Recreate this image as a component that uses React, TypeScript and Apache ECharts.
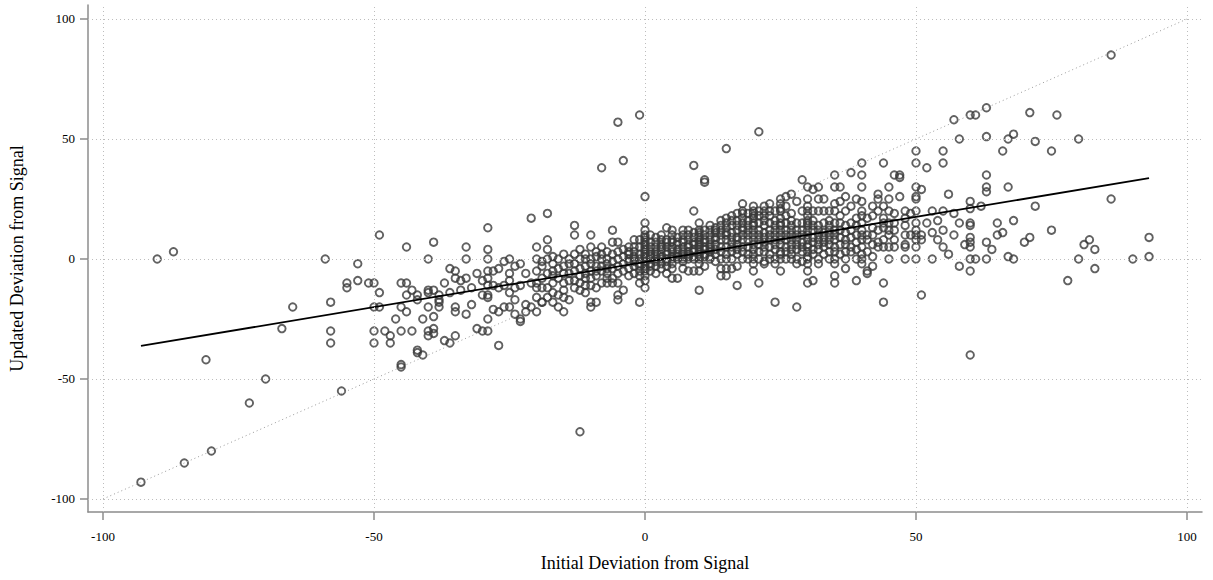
import React, { useEffect, useRef } from "react";
import * as echarts from "echarts";

const tickValues = [-100, -50, 0, 50, 100];
const xName = "Initial Deviation from Signal";
const yName = "Updated Deviation from Signal";
const diagX = [-100, 100];
const diagY = [-100, 100];
const fitX = [-93, 93];
const fitY = [-36.2, 33.7];

const farLeftPoints: [number, number][] = [
  [-93, -93], [-90, 0], [-87, 3], [-85, -85], [-81, -42], [-80, -80], [-73, -60], [-70, -50],
  [-67, -29], [-65, -20], [-59, 0], [-58, -18], [-58, -30], [-58, -35], [-56, -55], [-53, -2],
  [-55, -10], [-55, -12], [-53, -9], [-51, -10], [-50, -10], [-49, 10], [-49, -14], [-50, -20],
  [-50, -30], [-50, -35], [-48, -30], [-47, -35], [-49, -20],
];

const midLeftPoints: [number, number][] = [
  [-44, 5], [-39, 7], [-33, 5], [-29, 13], [-29, 4], [-29, 0], [-40, 0], [-33, 0], [-25, 0],
  [-26, -1], [-23, -2], [-21, 17], [-36, -4], [-35, -5], [-35, -8], [-34, -9], [-29, -5],
  [-28, -5], [-27, -4], [-29, -8], [-30, -9], [-25, -6], [-25, -9], [-45, -20], [-46, -25],
  [-47, -32], [-45, -30], [-43, -30], [-41, -25], [-39, -24], [-40, -20], [-40, -30], [-40, -32],
  [-39, -29], [-42, -38], [-38, -18], [-38, -20], [-35, -20], [-35, -22], [-36, -35], [-35, -32],
  [-32, -19], [-31, -29], [-30, -30], [-29, -30], [-27, -36], [-28, -21], [-27, -22], [-26, -20],
  [-25, -20], [-29, -25], [-29, -16], [-24, -23], [-23, -25], [-23, -26], [-22, -22], [-21, -20],
  [-19, -18], [-24, -17], [-22, -19], [-25, -14], [-24, -12], [-23, -11], [-21, -10], [-26, -11],
  [-27, -12], [-28, -11], [-29, -15], [-30, -15], [-29, -11], [-38, -15], [-38, -17], [-40, -13],
  [-40, -14], [-39, -13], [-43, -13], [-44, -15], [-45, -10], [-34, -13], [-33, -8], [-45, -44],
  [-45, -45], [-42, -39], [-41, -40], [-37, -34], [-39, -31], [-42, -17], [-42, -15], [-44, -22],
  [-31, -6], [-37, -10], [-32, -12], [-22, -6], [-24, -3], [-44, -10], [-36, -14], [-33, -23],
];

const centerColumns: [number, number[]][] = [
  [-20, [-10, -16, -22, -5, 0, 5, -12]],
  [-19, [-18, -8, -3]],
  [-18, [-16, -6, 0, 4, 8, 19, -12]],
  [-17, [-18, -10, -5, -2]],
  [-16, [-20, -15, 0, -8, -4]],
  [-15, [-22, -10, -6, -3, 2]],
  [-14, [-17, -6, -9, 0, -2]],
  [-13, [-9, -5, 10, 14, -2, 2]],
  [-12, [-13, -10, -4, 4, 0, -72, -7]],
  [-11, [-11, -6, -3, 2, 0]],
  [-10, [-11, -18, -20, 10, 5, -5, -2, 0, -8]],
  [-9, [-18, -7, -3, 1, 3]],
  [-8, [-10, -5, 0, 2, 5, 38, -3]],
  [-7, [-10, -6, -2, 0, 3]],
  [-6, [12, 7, -8, -4, -1, 2]],
  [-5, [-15, -17, -10, 57, 7, -6, -3, 0, 3]],
  [-4, [-13, 41, -5, -2, 1, 4]],
  [-3, [5, -4, -1, 2, 0]],
  [-2, [-6, -3, 0, 3, 5]],
  [-1, [-18, -7, -10, 60, 5, -3, 0, 2]],
  [0, [26, 15, 10, 8, 5, -12, -9, -5, -3, -1, 0, 2, 3, 6, -7, 4, 1]],
  [1, [10, -2, 0, 2, 5, -5]],
  [2, [9, -3, -6, 0, 3, 5, 7]],
  [3, [-4, 0, 2, 4, 6, 8]],
  [4, [13, 8, -3, -6, 2, 5, 0]],
  [5, [8, -8, -2, 0, 3, 5, 7, 10]],
  [6, [-8, 1, 4, 6, 9]],
  [7, [12, 8, -4, 0, 2, 5, 7, 10]],
  [8, [-5, 2, 5, 8, 10, 1]],
  [9, [39, 20, -5, 3, 6, 9, 0]],
  [10, [-13, -5, 0, 2, 5, 8, 10, 12, 3, 7, -2]],
  [11, [33, 32, 4, 7, 10, 1]],
  [12, [12, 5, 8, 10, 0, 3]],
  [13, [12, 2, 6, 9, 11, -1]],
  [14, [14, -4, -7, 5, 8, 10]],
  [15, [46, 17, -4, -7, 0, 5, 10, 13, 15]],
  [16, [18, -4, 3, 7, 11, 14]],
  [17, [19, -3, -11, 2, 6, 9, 12, 16]],
  [18, [19, 13, 23, 0, 5, 10, 15, 17]],
  [19, [19, 2, 8, 12, 16]],
  [20, [19, 14, 20, -5, -2, 0, 4, 8, 10, 12, 15, 17]],
  [21, [53, -10, 6, 10, 15, 20]],
  [22, [-1, 14, 22, -2, 3, 7, 11, 18]],
  [23, [23, 0, 5, 10, 15, 20]],
  [24, [-2, -18, 4, 8, 12, 16]],
  [25, [25, 23, 21, -5, 0, 3, 6, 10, 14, 17, 20]],
  [26, [26, 0, 5, 8, 12, 15]],
  [27, [27, 19, 2, 6, 10, 14]],
  [28, [-2, -20, 4, 8, 12]],
  [29, [33, -1, 3, 7, 10, 15]],
  [30, [30, 25, 20, 18, 3, 1, 0, -2, -10, 5, 8, 10, 12, 14, 15, 16]],
  [31, [29, 16, -9, 4, 9, 12]],
  [32, [30, 25, -2, 6, 10, 14]],
  [33, [2, 7, 11, 20]],
  [34, [3, 8, 12, 16]],
  [35, [35, 30, 23, 3, -2, -7, -10, 0, 5, 10, 15]],
  [36, [30, 18, 6, 12]],
  [37, [26, 3, -4, 8, 14]],
  [38, [36, 3, 9, 15]],
  [39, [4, -9, 10, 17]],
  [40, [40, 35, 30, 20, 10, -2, 0, 5, 15, 24]],
  [41, [17, 10, 3, -5, -6, 8]],
  [42, [22, 1, 6, 13]],
  [43, [27, 25, 20, 7, 5, 12]],
  [44, [40, 17, 8, -10, -18, 13]],
  [45, [30, 10, 5, 15, 20]],
  [46, [35, 19, 12, 8]],
  [47, [35, 34, 26]],
  [48, [17, 14, 6, 5, 0]],
  [49, [19, 10]],
  [50, [45, 40, 26, 25, 15, 10, 8, 5, 20]],
];

const denseBandColumns: [number, number[]][] = [
  [-19, [-12, -1]], [-17, [-14, -7, 1]], [-15, [-16, -13]], [-13, [-12]], [-11, [-8, -14]],
  [-9, [-12, -5]], [-7, [-4, -8]], [-6, [-10]], [-3, [-7, 3]], [-2, [-1, 1, 8]],
  [-1, [-5, -2, 8]], [0, [-2, 12, -4, 7, 9]], [1, [1, 3, 7, -3]], [2, [1, -1, 2]],
  [3, [1, -2, 5, 10]], [4, [3, 7, -1]], [5, [1, 4, -4, 12]], [6, [0, 2, 7]], [7, [1, 3, -1]],
  [8, [3, 6, 0, 12]], [9, [1, 4, 7, 11]], [10, [1, 4, 6, 9, 11, 15]], [11, [2, 5, 8, 12, -3]],
  [12, [1, 4, 6, 14]], [13, [4, 8, 13]], [14, [0, 3, 12, 16]], [15, [2, 8, 11]],
  [16, [0, 5, 9, 16]], [17, [4, 8, 14]], [18, [3, 8, 12, 20]], [19, [0, 5, 10, 14]],
  [20, [2, 6, 18, 22]], [21, [0, 3, 8, 12, 18]], [22, [5, 9, 16, 20]], [23, [2, 8, 12, 18]],
  [24, [0, 6, 10, 14, 20]], [25, [2, 8, 12, 15]], [26, [3, 10, 18, 22]], [27, [0, 4, 8, 12, 16]],
  [28, [0, 6, 10, 15, 24]], [29, [5, 12, 20]], [30, [6, 22, -5]], [31, [2, 7, 14, 20]],
  [32, [0, 4, 8, 12, 20]], [33, [5, 9, 15, 25]], [34, [0, 6, 10, 14, 20]], [35, [8, 12, 20]],
  [36, [2, 9, 15, 24]], [37, [0, 6, 11, 20]], [38, [5, 12, 22]], [39, [0, 7, 14, 25]],
  [40, [2, 8, 12, 18]], [42, [10, 18, -3]], [44, [5, 15, 22]], [45, [0, 12, 25]],
  [46, [5, 15]], [48, [10, 20]], [50, [0, 12, 30]],
];

const rightColumns: [number, number[]][] = [
  [51, [29, 10, 8, -15]],
  [52, [38, 15]],
  [53, [11, 0, 20]],
  [54, [8, 16]],
  [55, [45, 40, 20, 5, 12]],
  [56, [27, 2]],
  [57, [58, 19, 10]],
  [58, [50, 15, -3]],
  [59, [6]],
  [60, [60, 24, 21, 15, 14, 9, 7, 5, 0, -5, -40]],
  [61, [60, 0]],
  [62, [22]],
  [63, [63, 51, 35, 30, 28, 7, 0]],
  [64, [4]],
  [65, [15, 10]],
  [66, [45, 11]],
  [67, [50, 30, 1]],
  [68, [52, 16, 0]],
  [70, [7]],
  [71, [61, 9]],
  [72, [49, 22]],
  [75, [45, 12]],
  [76, [60]],
  [78, [-9]],
  [80, [50, 0]],
  [81, [6]],
  [82, [8]],
  [83, [4, -4]],
  [86, [85, 25]],
  [90, [0]],
  [93, [9, 1]],
];

const FONT = "'Liberation Serif', 'DejaVu Serif', serif";

export default function App() {
  const ref = useRef<HTMLDivElement>(null);
  useEffect(() => {
    if (!ref.current) return;
    const chart = echarts.init(ref.current, null, { renderer: "svg" });
    const columnPoints = [...centerColumns, ...denseBandColumns, ...rightColumns].flatMap(([x, ys]) =>
      ys.map((y) => [x, y])
    );
    const points = [...farLeftPoints, ...midLeftPoints, ...columnPoints];
    const axisColor = "#8c8c8c";
    chart.setOption({
      animation: false,
      grid: { left: 88, right: 11, top: 5, bottom: 68, containLabel: false },
      xAxis: {
        type: "value",
        min: -102.77,
        max: 102.77,
        name: xName,
        nameLocation: "middle",
        nameGap: 42,
        nameTextStyle: { fontFamily: FONT, fontSize: 18, color: "#000" },
        axisLine: { onZero: false, lineStyle: { color: axisColor, width: 1.5 } },
        axisTick: { customValues: tickValues, length: 8, lineStyle: { color: axisColor, width: 1.5 } },
        axisLabel: { customValues: tickValues, margin: 18, fontFamily: FONT, fontSize: 13, color: "#000" },
        splitLine: { show: false },
      },
      yAxis: {
        type: "value",
        min: -105.42,
        max: 105.83,
        name: yName,
        nameLocation: "middle",
        nameGap: 62,
        nameTextStyle: { fontFamily: FONT, fontSize: 18, color: "#000" },
        axisLine: { onZero: false, lineStyle: { color: axisColor, width: 1.5 } },
        axisTick: { customValues: tickValues, length: 8, lineStyle: { color: axisColor, width: 1.5 } },
        axisLabel: { customValues: tickValues, margin: 13, fontFamily: FONT, fontSize: 13, color: "#000" },
        splitLine: { show: false },
      },
      series: [
        {
          type: "line",
          data: diagX.map((x, i) => [x, diagY[i]]),
          symbol: "none",
          silent: true,
          lineStyle: { color: "#9a9a9a", width: 1, type: [1, 3] },
          markLine: {
            silent: true,
            symbol: "none",
            label: { show: false },
            lineStyle: { color: "#bdbdbd", width: 1, type: [1, 3] },
            data: [
              ...tickValues.map((v) => ({ xAxis: v })),
              ...tickValues.map((v) => ({ yAxis: v })),
            ],
          },
        },
        {
          type: "scatter",
          data: points,
          symbol: "circle",
          symbolSize: 7.5,
          silent: true,
          itemStyle: { color: "rgba(0,0,0,0)", borderColor: "#3a3a3a", borderWidth: 1.9 },
        },
        {
          type: "line",
          data: fitX.map((x, i) => [x, fitY[i]]),
          symbol: "none",
          silent: true,
          lineStyle: { color: "#000", width: 1.8 },
        },
      ],
    });
    return () => chart.dispose();
  }, []);
  return (
    <div
      ref={ref}
      style={{ position: "fixed", left: 0, top: 0, width: 1213, height: 580, background: "#fff" }}
    />
  );
}
